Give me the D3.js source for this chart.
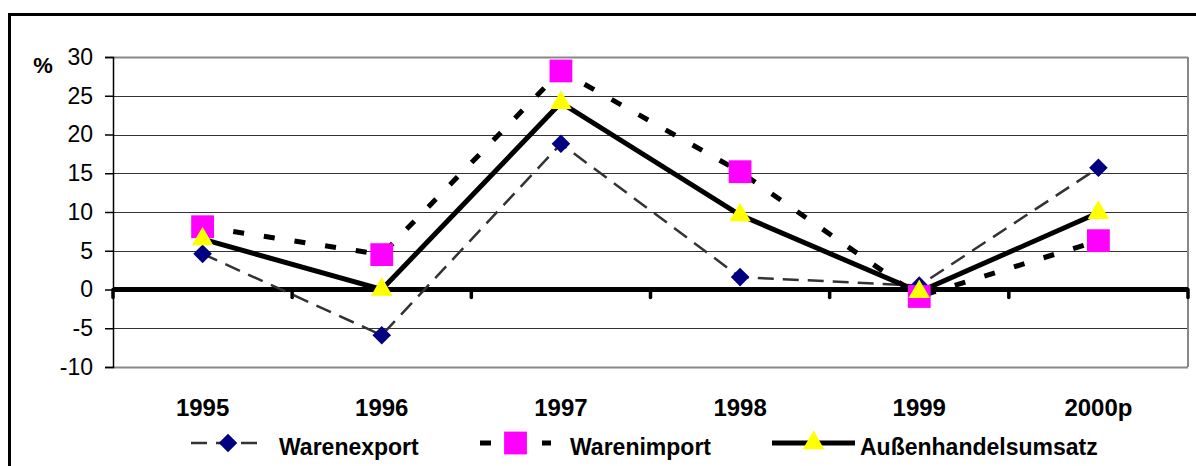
<!DOCTYPE html>
<html>
<head>
<meta charset="utf-8">
<script src="https://cdn.jsdelivr.net/npm/d3@7"></script>
<style>
  body { margin: 0; background: #fff; }
  svg { display: block; font-family: "Liberation Sans", Arial, sans-serif; }
</style>
</head>
<body>
<svg id="chart" width="1196" height="466"></svg>
<script>
const years = ['1995', '1996', '1997', '1998', '1999', '2000p'];
const warenexport = [4.6, -5.9, 18.8, 1.6, 0.5, 15.7];
const warenimport = [8.1, 4.5, 28.2, 15.2, -0.9, 6.3];
const umsatz = [6.5, 0, 24.1, 9.6, -0.3, 9.9];
const yTicks = [-10, -5, 0, 5, 10, 15, 20, 25, 30];

const svg = d3.select('#chart');
const plotLeft = 113, plotRight = 1188, plotTop = 57, plotBottom = 367;

// outer frame (runs off the picture to the right and bottom)
svg.append('rect')
  .attr('x', 9.5).attr('y', 14.5)
  .attr('width', 1300).attr('height', 600)
  .attr('fill', 'none').attr('stroke', '#000').attr('stroke-width', 3);

const x = d3.scaleBand().domain(years).range([plotLeft, plotRight]);
const y = d3.scaleLinear().domain([-10, 30]).range([plotBottom, plotTop]);

// gridlines
svg.append('g')
  .selectAll('line')
  .data(yTicks.filter(d => d !== 0))
  .join('line')
  .attr('x1', plotLeft).attr('x2', plotRight)
  .attr('y1', d => Math.round(y(d)) + 0.5).attr('y2', d => Math.round(y(d)) + 0.5)
  .attr('stroke', d => (d === 30 || d === -10) ? '#888' : '#333')
  .attr('stroke-width', d => (d === 30 || d === -10) ? 2 : 1);

// right border of plot area
svg.append('line')
  .attr('x1', plotRight).attr('x2', plotRight)
  .attr('y1', plotTop).attr('y2', plotBottom)
  .attr('stroke', '#888').attr('stroke-width', 2);

// y axis
const yAxis = svg.append('g')
  .attr('transform', `translate(${plotLeft},0)`)
  .call(d3.axisLeft(y).tickValues(yTicks).tickSize(8).tickPadding(12).tickFormat(d => String(d)));
yAxis.select('.domain').attr('stroke', '#000').attr('stroke-width', 1.5);
yAxis.selectAll('.tick line').attr('stroke', '#000').attr('stroke-width', 1.5);
yAxis.selectAll('.tick text')
  .attr('font-size', 23).attr('fill', '#000')
  .attr('font-family', '"Liberation Sans", Arial, sans-serif');

svg.append('text')
  .attr('x', 43).attr('y', 73)
  .attr('text-anchor', 'middle')
  .attr('font-size', 22).attr('font-weight', 'bold')
  .text('%');

// zero line with category ticks
const bounds = years.map(d => x(d)).concat([plotRight]);
svg.append('g')
  .selectAll('line')
  .data(bounds)
  .join('line')
  .attr('x1', d => d).attr('x2', d => d)
  .attr('y1', y(0)).attr('y2', y(0) + 8)
  .attr('stroke', '#000').attr('stroke-width', 3.5)
  .attr('stroke-linecap', 'round');
svg.append('line')
  .attr('x1', plotLeft).attr('x2', plotRight)
  .attr('y1', y(0)).attr('y2', y(0))
  .attr('stroke', '#000').attr('stroke-width', 5);

// x labels
svg.append('g')
  .selectAll('text')
  .data(years)
  .join('text')
  .attr('x', d => x(d) + x.bandwidth() / 2)
  .attr('y', 416)
  .attr('text-anchor', 'middle')
  .attr('font-size', 24).attr('font-weight', 'bold')
  .text(d => d);

const cx = d => x(d) + x.bandwidth() / 2;

const series = [
  { name: 'Warenexport', values: warenexport, stroke: '#333', width: 2.5, dash: '16,9', marker: 'diamond', fill: '#000080', lx: 191, lx2: 265, tx: 279 },
  { name: 'Warenimport', values: warenimport, stroke: '#000', width: 5, dash: '11,20', marker: 'square', fill: '#ff00ff', lx: 480, lx2: 551, tx: 570 },
  { name: 'Außenhandelsumsatz', values: umsatz, stroke: '#000', width: 5, dash: null, marker: 'triangle', fill: '#ffff00', lx: 772, lx2: 855, tx: 860 }
];

const symbols = {
  diamond: d3.symbol().type(d3.symbolDiamond2).size(220),
  square: d3.symbol().type(d3.symbolSquare).size(520),
  triangle: d3.symbol().type(d3.symbolTriangle).size(200)
};

const line = d3.line().x((d, i) => cx(years[i])).y(d => y(d));

series.forEach(s => {
  svg.append('path')
    .datum(s.values)
    .attr('d', line)
    .attr('fill', 'none')
    .attr('stroke', s.stroke)
    .attr('stroke-width', s.width)
    .attr('stroke-dasharray', s.dash);
});

series.forEach(s => {
  svg.append('g')
    .selectAll('path')
    .data(s.values)
    .join('path')
    .attr('transform', (d, i) => `translate(${cx(years[i])},${y(d)})`)
    .attr('d', symbols[s.marker])
    .attr('fill', s.fill);
});

// legend
const ly = 443;
series.forEach(s => {
  const g = svg.append('g');
  g.append('line')
    .attr('x1', s.lx).attr('x2', s.lx2)
    .attr('y1', ly).attr('y2', ly)
    .attr('stroke', s.stroke).attr('stroke-width', s.width)
    .attr('stroke-dasharray', s.dash);
  g.append('path')
    .attr('transform', `translate(${(s.lx + s.lx2) / 2},${ly})`)
    .attr('d', symbols[s.marker])
    .attr('fill', s.fill);
  g.append('text')
    .attr('x', s.tx).attr('y', 455)
    .attr('font-size', 23).attr('font-weight', 'bold')
    .text(s.name);
});
</script>
</body>
</html>
